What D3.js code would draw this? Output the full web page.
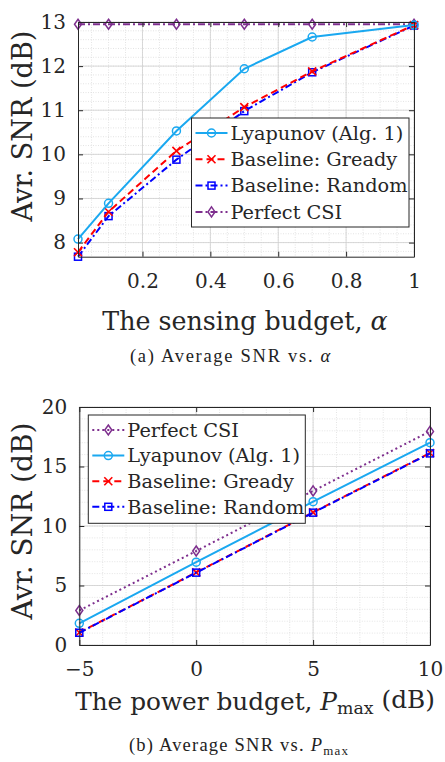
<!DOCTYPE html>
<html lang="en">
<head>
<meta charset="UTF-8">
<title>Average SNR</title>
<script src="https://cdn.jsdelivr.net/npm/d3@7"></script>
<style>
  body { margin: 0; background: #fff; }
  text { font-family: "DejaVu Serif", serif; fill: #262626; }
  .caption { font-family: "Liberation Serif", serif; fill: #222; }
</style>
</head>
<body>
<svg id="chart" width="445" height="762"></svg>
<script>
// ---- panel (a): SNR vs sensing budget alpha ----
var alphaVals = [0.01, 0.1, 0.3, 0.5, 0.7, 1];
var aLyapunov = [8.08, 8.89, 10.53, 11.94, 12.66, 12.93];
var aGreedy   = [7.78, 8.70, 10.08, 11.07, 11.88, 12.93];
var aRandom   = [7.68, 8.60, 9.88, 10.98, 11.86, 12.92];
var aPerfect  = [12.95, 12.95, 12.95, 12.95, 12.95, 12.95];
var aXTicks = [0.2, 0.4, 0.6, 0.8, 1];
var aYTicks = [8, 9, 10, 11, 12, 13];

// ---- panel (b): SNR vs power budget Pmax ----
var pmaxVals = [-5, 0, 5, 10];
var bPerfect  = [2.9, 7.9, 12.95, 17.95];
var bLyapunov = [1.82, 6.96, 12.04, 17.0];
var bGreedy   = [1.05, 6.10, 11.15, 16.13];
var bRandom   = [1.03, 6.08, 11.12, 16.1];
var bXTicks = [-5, 0, 5, 10];
var bYTicks = [0, 5, 10, 15, 20];

var styles = {
  lyap:    { name: 'Lyapunov (Alg. 1)',  color: '#1aa8f0', dash: null,      marker: 'circle' },
  greedy:  { name: 'Baseline: Gready',   color: '#ff0000', dash: '7,4',     marker: 'cross' },
  random:  { name: 'Baseline: Random',   color: '#0000ff', dash: '7,3,2,3', marker: 'square' },
  perfectA:{ name: 'Perfect CSI',        color: '#7e2f8e', dash: '7,3,2,3', marker: 'diamond' },
  perfectB:{ name: 'Perfect CSI',        color: '#7e2f8e', dash: '2,3',     marker: 'diamond' }
};

var svg = d3.select('#chart');

// scale a text's font size so its width matches the reference
function fitWidth(sel, target) {
  var fs = parseFloat(sel.style('font-size'));
  var w = sel.node().getBBox().width;
  var nfs = fs * target / w;
  sel.style('font-size', nfs + 'px');
  return nfs;
}

// keep font size, spread letters to reach the reference width
function fitSpacing(sel, target) {
  var w = sel.node().getBBox().width;
  var n = sel.text().length;
  sel.style('letter-spacing', Math.max(0, (target - w) / n) + 'px');
}

function drawMarker(g, type, x, y, color) {
  if (type === 'circle') {
    g.append('circle').attr('cx', x).attr('cy', y).attr('r', 4)
      .attr('fill', 'none').attr('stroke', color).attr('stroke-width', 1.5);
  } else if (type === 'square') {
    g.append('rect').attr('x', x - 3.5).attr('y', y - 3.5).attr('width', 7).attr('height', 7)
      .attr('fill', 'none').attr('stroke', color).attr('stroke-width', 1.5);
  } else if (type === 'cross') {
    g.append('path').attr('d', `M${x - 4},${y - 4}L${x + 4},${y + 4}M${x - 4},${y + 4}L${x + 4},${y - 4}`)
      .attr('stroke', color).attr('stroke-width', 1.6);
  } else if (type === 'diamond') {
    g.append('path').attr('d', `M${x},${y - 5}L${x + 3.5},${y}L${x},${y + 5}L${x - 3.5},${y}Z`)
      .attr('fill', 'none').attr('stroke', color).attr('stroke-width', 1.5);
  }
}

function drawPanel(cfg) {
  var x = d3.scaleLinear().domain(cfg.xDomain).range([cfg.left, cfg.right]);
  var y = d3.scaleLinear().domain(cfg.yDomain).range([cfg.bottom, cfg.top]);
  var g = svg.append('g');

  // minor grid
  var grid = g.append('g');
  d3.range(cfg.xMinor[0], cfg.xMinor[1] + 1e-9, cfg.xMinor[2]).forEach(v => {
    if (x(v) < cfg.left - 0.5 || x(v) > cfg.right + 0.5) return;
    grid.append('line').attr('x1', x(v)).attr('x2', x(v)).attr('y1', cfg.top).attr('y2', cfg.bottom)
      .attr('stroke', '#d9d9d9').attr('stroke-width', 0.7).attr('stroke-dasharray', '1,1.5');
  });
  d3.range(cfg.yMinor[0], cfg.yMinor[1] + 1e-9, cfg.yMinor[2]).forEach(v => {
    if (y(v) > cfg.bottom + 0.5 || y(v) < cfg.top - 0.5) return;
    grid.append('line').attr('y1', y(v)).attr('y2', y(v)).attr('x1', cfg.left).attr('x2', cfg.right)
      .attr('stroke', '#d9d9d9').attr('stroke-width', 0.7).attr('stroke-dasharray', '1,1.5');
  });
  // major grid
  cfg.xTicks.forEach(v => {
    grid.append('line').attr('x1', x(v)).attr('x2', x(v)).attr('y1', cfg.top).attr('y2', cfg.bottom)
      .attr('stroke', '#cfcfcf').attr('stroke-width', 0.8);
  });
  cfg.yTicks.forEach(v => {
    grid.append('line').attr('y1', y(v)).attr('y2', y(v)).attr('x1', cfg.left).attr('x2', cfg.right)
      .attr('stroke', '#cfcfcf').attr('stroke-width', 0.8);
  });

  // series
  var line = d3.line().x((d, i) => x(cfg.xs[i])).y(d => y(d));
  cfg.series.forEach(s => {
    var st = styles[s.key];
    g.append('path').datum(s.values).attr('d', line)
      .attr('fill', 'none').attr('stroke', st.color).attr('stroke-width', 2)
      .attr('stroke-dasharray', st.dash);
    s.values.forEach((v, i) => drawMarker(g, st.marker, x(cfg.xs[i]), y(v), st.color));
  });

  // axes (box with inward ticks)
  var axisColor = '#262626';
  var xAxis = d3.axisBottom(x).tickValues(cfg.xTicks).tickSizeInner(-5).tickSizeOuter(0)
    .tickPadding(14).tickFormat(d3.format('~g'));
  var yAxis = d3.axisLeft(y).tickValues(cfg.yTicks).tickSizeInner(-5).tickSizeOuter(0)
    .tickPadding(12).tickFormat(d3.format('~g'));
  var xTop = d3.axisTop(x).tickValues(cfg.xTicks).tickSizeInner(-5).tickSizeOuter(0).tickFormat('');
  var yRight = d3.axisRight(y).tickValues(cfg.yTicks).tickSizeInner(-5).tickSizeOuter(0).tickFormat('');

  var ax = [
    g.append('g').attr('transform', `translate(0,${cfg.bottom})`).call(xAxis),
    g.append('g').attr('transform', `translate(${cfg.left},0)`).call(yAxis),
    g.append('g').attr('transform', `translate(0,${cfg.top})`).call(xTop),
    g.append('g').attr('transform', `translate(${cfg.right},0)`).call(yRight)
  ];
  ax.forEach(a => {
    a.attr('font-family', null);
    a.select('.domain').attr('stroke', axisColor).attr('stroke-width', 1);
    a.selectAll('.tick line').attr('stroke', axisColor);
    a.selectAll('.tick text').style('font-size', '20px').attr('fill', axisColor);
  });
  ax[0].selectAll('.tick text').attr('dy', '0.35em').attr('y', 24);

  // axis labels
  var yl = svg.append('text')
    .attr('transform', `translate(${cfg.yLabelX},${cfg.yLabelY}) rotate(-90)`)
    .attr('text-anchor', 'middle').attr('dy', '0.35em')
    .style('font-size', '24px').text('Avr. SNR (dB)');
  fitWidth(yl, cfg.yLabelW);

  var xl = svg.append('text').attr('x', cfg.xLabelX).attr('y', cfg.xLabelY)
    .attr('text-anchor', 'middle').attr('dy', '0.35em').style('font-size', '23px');
  cfg.xLabel(xl);
  fitWidth(xl, cfg.xLabelW);

  var cap = svg.append('text').attr('class', 'caption').attr('x', cfg.capX).attr('y', cfg.capY)
    .attr('text-anchor', 'middle').attr('dy', '0.35em').style('font-size', '18.5px');
  cfg.caption(cap);
  fitSpacing(cap, cfg.capW);

  // legend
  var lg = svg.append('g');
  lg.append('rect').attr('x', cfg.legend.x).attr('y', cfg.legend.y)
    .attr('width', cfg.legend.w).attr('height', cfg.legend.h)
    .attr('fill', '#fff').attr('stroke', '#262626').attr('stroke-width', 1);
  var legendFs = null;
  cfg.legend.keys.forEach((k, i) => {
    var st = styles[k];
    var ly = cfg.legend.y + cfg.legend.first + i * cfg.legend.step;
    var lx0 = cfg.legend.x + 4, lx1 = lx0 + 32;
    lg.append('line').attr('x1', lx0).attr('x2', lx1).attr('y1', ly).attr('y2', ly)
      .attr('stroke', st.color).attr('stroke-width', 2).attr('stroke-dasharray', st.dash);
    drawMarker(lg, st.marker, (lx0 + lx1) / 2, ly, st.color);
    var t = lg.append('text').attr('x', lx1 + 3).attr('y', ly).attr('dy', '0.35em')
      .style('font-size', '17.5px').text(st.name);
    if (k === 'lyap') legendFs = fitWidth(t, cfg.legend.textW);
  });
  lg.selectAll('text').style('font-size', legendFs + 'px');
}

drawPanel({
  left: 78, right: 414, top: 22, bottom: 256.7,
  xDomain: [0.01, 1], yDomain: [7.68, 13],
  xTicks: aXTicks, yTicks: aYTicks,
  xMinor: [0, 1, 0.05], yMinor: [7.6, 13, 0.2],
  xs: alphaVals,
  series: [
    { key: 'perfectA', values: aPerfect },
    { key: 'random', values: aRandom },
    { key: 'greedy', values: aGreedy },
    { key: 'lyap', values: aLyapunov }
  ],
  yLabelX: 22, yLabelY: 126, yLabelW: 192,
  xLabelX: 245, xLabelY: 321, xLabelW: 286,
  xLabel: t => {
    t.append('tspan').text('The sensing budget, ');
    t.append('tspan').style('font-style', 'italic').text('α');
  },
  capX: 231, capY: 356, capW: 205,
  caption: t => {
    t.append('tspan').text('(a)  Average SNR vs. ');
    t.append('tspan').style('font-style', 'italic').text('α');
  },
  legend: { x: 191.5, y: 118, w: 217.5, h: 109, first: 15, step: 26.3, textW: 173,
            keys: ['lyap', 'greedy', 'random', 'perfectA'] }
});

drawPanel({
  left: 79.3, right: 430, top: 407, bottom: 645,
  xDomain: [-5, 10], yDomain: [0, 20],
  xTicks: bXTicks, yTicks: bYTicks,
  xMinor: [-5, 10, 1], yMinor: [0, 20, 1],
  xs: pmaxVals,
  series: [
    { key: 'perfectB', values: bPerfect },
    { key: 'lyap', values: bLyapunov },
    { key: 'greedy', values: bGreedy },
    { key: 'random', values: bRandom }
  ],
  yLabelX: 22, yLabelY: 521, yLabelW: 198,
  xLabelX: 255, xLabelY: 701, xLabelW: 360,
  xLabel: t => {
    t.append('tspan').text('The power budget, ');
    t.append('tspan').style('font-style', 'italic').text('P');
    t.append('tspan').attr('dy', '0.25em').style('font-size', '0.7em').text('max');
    t.append('tspan').attr('dy', '-0.25em').text(' (dB)');
  },
  capX: 239, capY: 745, capW: 222,
  caption: t => {
    t.append('tspan').text('(b)  Average SNR vs. ');
    t.append('tspan').style('font-style', 'italic').text('P');
    t.append('tspan').attr('dy', '0.25em').style('font-size', '0.7em').text('max');
  },
  legend: { x: 88.3, y: 415, w: 217, h: 108.3, first: 15, step: 25.6, textW: 173,
            keys: ['perfectB', 'lyap', 'greedy', 'random'] }
});
</script>
</body>
</html>
